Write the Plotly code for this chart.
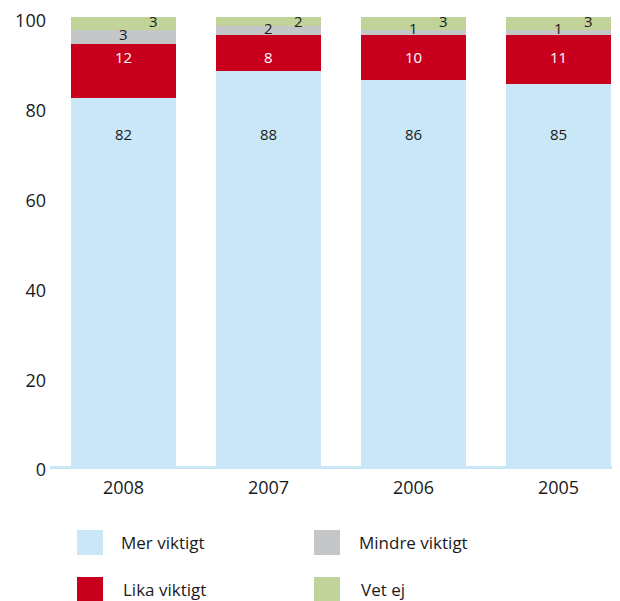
import plotly.graph_objects as go

years = ["2008", "2007", "2006", "2005"]
mer = [82, 88, 86, 85]
lika = [12, 8, 10, 11]
mindre = [3, 2, 1, 1]
vetej = [3, 2, 3, 3]
series_names = ["Mer viktigt", "Lika viktigt", "Mindre viktigt", "Vet ej"]
colors = ["#C9E7F7", "#C8001E", "#C5C6C8", "#C2D39A"]
yticks = [0, 20, 40, 60, 80, 100]

FONT = "Open Sans"
# page body has an 8px margin; figure sized to fill the window
W, H = 612, 593
L, R, T, B = 42, 0, 0, 135
PW, PH = W - L - R, H - T - B

fig = go.Figure()
for name, vals, col in zip(series_names, [mer, lika, mindre, vetej], colors):
    fig.add_trace(go.Bar(x=years, y=vals, name=name, marker=dict(color=col, line=dict(width=0)),
                         showlegend=False, hoverinfo="x+y+name"))

ann = []
for i, yr in enumerate(years):
    ann.append(dict(x=i, y=74, text=str(mer[i]), showarrow=False, font=dict(size=15, color="#1a1a1a", family=FONT)))
    ann.append(dict(x=i, y=91, text=str(lika[i]), showarrow=False, font=dict(size=15, color="white", family=FONT)))
    ann.append(dict(x=i, y=96.2 if mindre[i] > 2 else 97.6, text=str(mindre[i]), showarrow=False,
                    font=dict(size=15, color="#1a1a1a", family=FONT)))
    ann.append(dict(x=i, y=99.0, xshift=30, text=str(vetej[i]), showarrow=False,
                    font=dict(size=15, color="#1a1a1a", family=FONT)))

# manual legend (positions in figure pixels)
leg_pos = [(69, 522), (69, 569), (306, 522), (306, 569)]
text_dx = [42, 44, 43, 45]
shapes = []
for (px, py), dx, name, col in zip(leg_pos, text_dx, series_names, colors):
    shapes.append(dict(type="rect", xref="paper", yref="paper",
                       x0=(px - L) / PW, x1=(px + 26 - L) / PW,
                       y0=(PH - py) / PH, y1=(PH - py - 25) / PH,
                       fillcolor=col, line=dict(width=0)))
    ann.append(dict(xref="paper", yref="paper", x=(px + dx - L) / PW, y=(PH - py - 12) / PH,
                    xanchor="left", yanchor="middle", text=name, showarrow=False,
                    font=dict(size=17, color="#1a1a1a", family=FONT)))

fig.update_layout(
    barmode="stack", bargap=0.276,
    width=W, height=H,
    margin=dict(l=L, r=R, t=T, b=B),
    plot_bgcolor="white", paper_bgcolor="white",
    font=dict(family=FONT, size=16, color="#1a1a1a"),
    xaxis=dict(type="category", range=[-0.507, 3.424], showline=True, linecolor="#C9E7F7", linewidth=3,
               ticks="", showgrid=False, tickfont=dict(size=18), ticklabelstandoff=3),
    yaxis=dict(range=[0, 102.0], tickvals=yticks, showgrid=False, zeroline=False,
               showline=False, ticks="", tickfont=dict(size=18), ticklabelstandoff=3,
               ticklabelshift=4),
    annotations=ann, shapes=shapes,
)
fig.write_html("out.html")
